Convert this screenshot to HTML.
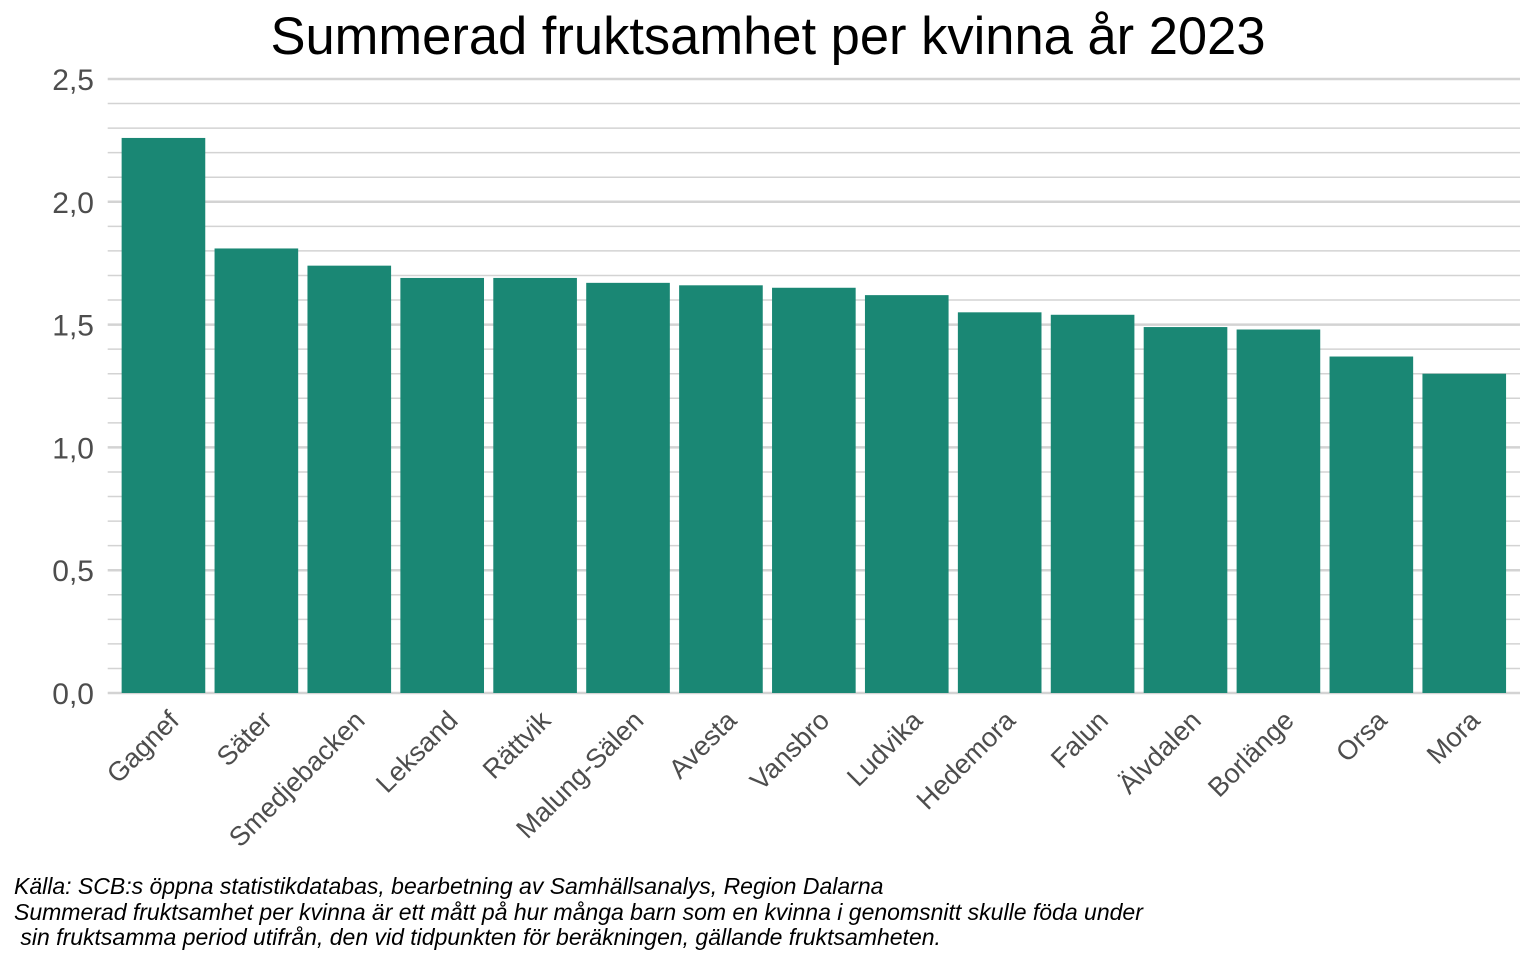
<!DOCTYPE html>
<html><head><meta charset="utf-8"><style>
body{margin:0;background:#fff;}
svg text{font-family:"Liberation Sans",Arial,sans-serif;}
</style></head><body>
<svg width="1536" height="960" xmlns="http://www.w3.org/2000/svg">
<rect width="1536" height="960" fill="#fff"/>
<text x="768" y="54" text-anchor="middle" font-size="52.5" fill="#000">Summerad fruktsamhet per kvinna år 2023</text>
<g id="grid"></g><g id="bars"></g><g id="xlabels"></g><g id="ylabels"></g>
<g font-size="23" font-style="italic" fill="#000">
<text x="14" y="894">Källa: SCB:s öppna statistikdatabas, bearbetning av Samhällsanalys, Region Dalarna</text>
<text x="14" y="920">Summerad fruktsamhet per kvinna är ett mått på hur många barn som en kvinna i genomsnitt skulle föda under</text>
<text x="14" y="945" xml:space="preserve"> sin fruktsamma period utifrån, den vid tidpunkten för beräkningen, gällande fruktsamheten.</text>
</g>
</svg>
<script>
const categories=["Gagnef","Säter","Smedjebacken","Leksand","Rättvik","Malung-Sälen","Avesta","Vansbro","Ludvika","Hedemora","Falun","Älvdalen","Borlänge","Orsa","Mora"];
const values=[2.26,1.81,1.74,1.69,1.69,1.67,1.66,1.65,1.62,1.55,1.54,1.49,1.48,1.37,1.30];
const yTicks=[0,0.5,1.0,1.5,2.0,2.5];
const yTickLabels=["0,0","0,5","1,0","1,5","2,0","2,5"];
const NS="http://www.w3.org/2000/svg";
const L=107.7,R=1520,y0=693,y1=79;
const y=v=>y0-(y0-y1)*v/2.5;
const step=(R-L)/(categories.length+0.2);
const xc=i=>L+step*(0.6+i);
function mk(t,a,p){const e=document.createElementNS(NS,t);for(const k in a)e.setAttribute(k,a[k]);p.appendChild(e);return e;}
const grid=document.getElementById('grid');
for(let k=0;k<=25;k++){const v=k/10;const major=k%5===0;
 const l=mk('line',{x1:L,x2:R,y1:y(v),y2:y(v),stroke:'#d3d3d3','stroke-width':major?2.5:1.5},grid);
 
 }
const yl=document.getElementById('ylabels');
yTicks.forEach((v,i)=>{const t=mk('text',{x:94,y:y(v)+11,'text-anchor':'end','font-size':30,fill:'#4d4d4d'},yl);t.textContent=yTickLabels[i];
 
 });
const bars=document.getElementById('bars'),xl=document.getElementById('xlabels');
const bw=step*0.9;
categories.forEach((c,i)=>{
 const r=mk('rect',{x:xc(i)-bw/2,y:y(values[i]),width:bw,height:y0-y(values[i]),fill:'#1a8774'},bars);
 
 
 const cx=xc(i)+3,cy=708;
 const t=mk('text',{x:cx,y:cy+20,'text-anchor':'end','font-size':27,fill:'#4d4d4d',transform:`rotate(-45 ${cx} ${cy})`},xl);
 t.textContent=c;
 
 
});
</script>
</body></html>
